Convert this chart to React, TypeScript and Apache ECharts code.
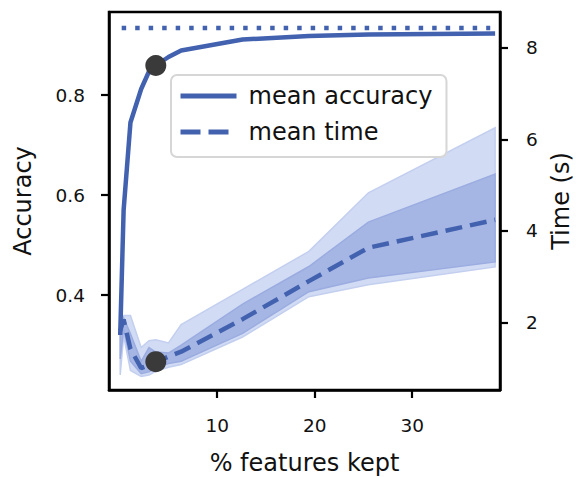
import React, { useEffect, useRef } from "react";
import * as echarts from "echarts";

const FEATURES = [0.05, 0.4, 1.1, 2.2, 3.0, 3.7, 5.0, 6.3, 12.6, 19.4, 25.5, 38.5];
const ACCURACY = [0.32, 0.57, 0.745, 0.812, 0.847, 0.859, 0.876, 0.889, 0.911, 0.918, 0.921, 0.923];
const TIME = [1.82, 2.06, 1.42, 1.0, 1.07, 1.14, 1.25, 1.36, 2.07, 2.9, 3.63, 4.24];
const TIME_OUTER_HI = [2.05, 2.15, 2.15, 1.45, 1.6, 1.62, 1.55, 1.95, 2.72, 3.55, 4.83, 6.25];
const TIME_INNER_HI = [1.95, 2.1, 1.75, 1.15, 1.45, 1.35, 1.33, 1.5, 2.4, 3.22, 4.19, 5.24];
const TIME_INNER_LO = [1.2, 1.85, 1.15, 0.88, 0.92, 1.0, 1.1, 1.15, 1.76, 2.67, 2.97, 3.32];
const TIME_OUTER_LO = [0.85, 1.7, 0.95, 0.82, 0.85, 0.93, 1.02, 1.08, 1.68, 2.56, 2.82, 3.21];
const BEST_ACCURACY = 0.934;
const BEST_RANGE = [0.2, 38.0];
const CHOSEN_X = 3.7;
const CHOSEN_ACC = 0.859;
const CHOSEN_TIME = 1.14;

const X_TICKS = [10, 20, 30];
const ACC_TICKS = [0.4, 0.6, 0.8];
const TIME_TICKS = [2, 4, 6, 8];

const BLUE = "#4262b0";
const FONT = "DejaVu Sans";

function bandSeries(lo: number[], hi: number[], fill: string, stroke: string, z: number) {
  return {
    type: "custom",
    xAxisIndex: 0,
    yAxisIndex: 1,
    z,
    silent: true,
    data: FEATURES.map((x, i) => [x, lo[i], hi[i]]),
    encode: { x: 0, y: [1, 2] },
    renderItem: (params: any, api: any) => {
      if (params.dataIndex !== 0) return null;
      const upper = FEATURES.map((x, i) => api.coord([x, hi[i]]));
      const lower = FEATURES.map((x, i) => api.coord([x, lo[i]])).reverse();
      return {
        type: "polygon",
        shape: { points: upper.concat(lower) },
        style: { fill, stroke, lineWidth: 1.5 },
      };
    },
  };
}

export default function App() {
  const ref = useRef<HTMLDivElement>(null);
  useEffect(() => {
    if (!ref.current) return;
    const chart = echarts.init(ref.current, null, { renderer: "svg" });
    const axisCommon = {
      axisLine: { show: true, onZero: false, lineStyle: { color: "#000", width: 2.5 } },
      axisTick: { show: true, length: 8, lineStyle: { color: "#000", width: 2.2 } },
      splitLine: { show: false },
      nameTextStyle: { fontSize: 24, fontFamily: FONT, color: "#111", lineHeight: 24 },
    };
    chart.setOption({
      animation: false,
      backgroundColor: "#fff",
      grid: {
        left: 109,
        right: 77,
        top: 12,
        bottom: 87,
        show: true,
        borderColor: "#000",
        borderWidth: 2.5,
        backgroundColor: "transparent",
        containLabel: false,
        outerBoundsMode: "none",
      },
      legend: {
        data: [
          { name: "mean accuracy" },
          { name: "mean time", lineStyle: { type: [20, 8] } },
        ],
        orient: "vertical",
        left: 171,
        top: 75,
        itemWidth: 56,
        itemHeight: 14,
        itemGap: 8,
        padding: [7, 14, 11, 7],
        backgroundColor: "rgba(255,255,255,0.9)",
        borderColor: "#d6d6d6",
        borderWidth: 2,
        borderRadius: 6,
        itemStyle: { opacity: 0 },
        lineStyle: { width: 5 },
        textStyle: {
          fontSize: 24,
          fontFamily: FONT,
          color: "#111",
          lineHeight: 28,
          padding: [0, 0, 0, 7],
        },
      },
      xAxis: {
        type: "value",
        min: -1.1,
        max: 39.0,
        name: "% features kept",
        nameLocation: "middle",
        nameGap: 61,
        ...axisCommon,
        axisTick: { ...axisCommon.axisTick, customValues: X_TICKS },
        axisLabel: {
          customValues: X_TICKS,
          fontSize: 18.5,
          fontFamily: FONT,
          color: "#111",
          margin: 26,
        },
      },
      yAxis: [
        {
          type: "value",
          min: 0.21,
          max: 0.966,
          name: "Accuracy",
          nameLocation: "middle",
          nameRotate: 90,
          nameGap: 74,
          ...axisCommon,
          axisTick: { ...axisCommon.axisTick, customValues: ACC_TICKS },
          axisLabel: {
            customValues: ACC_TICKS,
            formatter: (v: number) => v.toFixed(1),
            fontSize: 18.5,
            fontFamily: FONT,
            color: "#111",
            margin: 24,
          },
        },
        {
          type: "value",
          position: "right",
          min: 0.522,
          max: 8.78,
          name: "Time (s)",
          nameLocation: "middle",
          nameRotate: 90,
          nameGap: 46,
          ...axisCommon,
          axisTick: { ...axisCommon.axisTick, customValues: TIME_TICKS },
          axisLabel: {
            customValues: TIME_TICKS,
            fontSize: 18.5,
            fontFamily: FONT,
            color: "#111",
            margin: 26,
          },
        },
      ],
      series: [
        {
          name: "best",
          type: "line",
          yAxisIndex: 0,
          data: [
            [BEST_RANGE[0], BEST_ACCURACY],
            [BEST_RANGE[1], BEST_ACCURACY],
          ],
          symbol: "none",
          silent: true,
          z: 3,
          lineStyle: { color: BLUE, width: 4.5, type: [4.5, 9], cap: "butt" },
        },
        bandSeries(TIME_OUTER_LO, TIME_OUTER_HI, "#d2dbf4", "#c3cfef", 1),
        bandSeries(TIME_INNER_LO, TIME_INNER_HI, "#a6b6e4", "#9aace0", 2),
        {
          name: "mean time",
          type: "line",
          yAxisIndex: 1,
          data: FEATURES.map((x, i) => [x, TIME[i]]),
          symbol: "none",
          z: 4,
          color: BLUE,
          lineStyle: { color: BLUE, width: 4.5, type: [17, 8], cap: "butt" },
        },
        {
          name: "mean accuracy",
          type: "line",
          yAxisIndex: 0,
          data: FEATURES.map((x, i) => [x, ACCURACY[i]]),
          symbol: "none",
          z: 5,
          color: BLUE,
          lineStyle: { color: BLUE, width: 4.5 },
        },
        {
          name: "chosen accuracy",
          type: "scatter",
          yAxisIndex: 0,
          data: [[CHOSEN_X, CHOSEN_ACC]],
          symbolSize: 21,
          z: 6,
          itemStyle: { color: "#3a3a3a", opacity: 1 },
        },
        {
          name: "chosen time",
          type: "scatter",
          yAxisIndex: 1,
          data: [[CHOSEN_X, CHOSEN_TIME]],
          symbolSize: 21,
          z: 6,
          itemStyle: { color: "#3a3a3a", opacity: 1 },
        },
      ],
    });
    return () => chart.dispose();
  }, []);
  return (
    <div
      ref={ref}
      style={{ position: "absolute", left: 0, top: 0, width: 577, height: 477 }}
    />
  );
}
